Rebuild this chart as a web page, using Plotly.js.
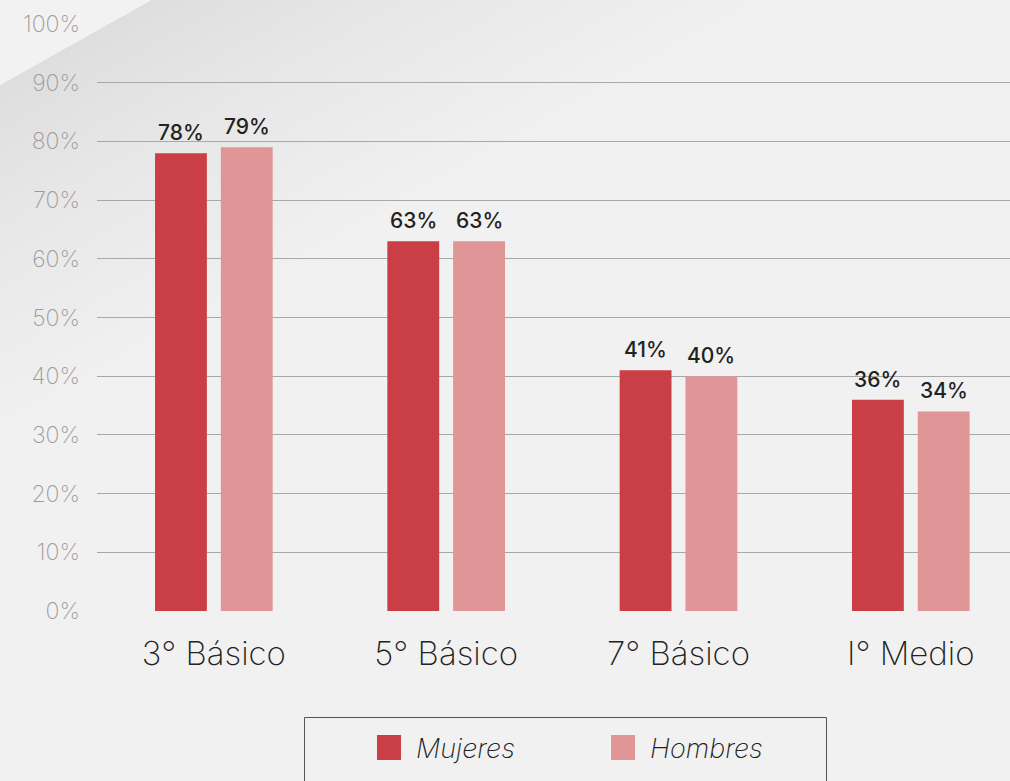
<!DOCTYPE html>
<html>
<head>
<meta charset="utf-8">
<script src="https://cdn.plot.ly/plotly-3.0.1.min.js"></script>
<style>
  html, body { margin:0; padding:0; }
  body {
    width:1010px; height:781px; overflow:hidden;
    background:
      linear-gradient(150.7deg, #f2f2f2 0px, #f2f2f2 74px, rgba(0,0,0,0) 74.5px),
      linear-gradient(150.7deg, #dedede 74px, #e7e7e7 200px, #f1f1f1 390px, #f1f1f1 100%);
  }
  #chart { width:1010px; height:781px; }
</style>
</head>
<body>
<div id="chart"></div>
<script>
const categories = ['3° Básico', '5° Básico', '7° Básico', 'I° Medio'];
const seriesNames = ['Mujeres', 'Hombres'];
const mujeres = [78, 63, 41, 36];
const hombres = [79, 63, 40, 34];
const seriesColors = ['#c93f45', '#e09597'];
const yTickVals = [0, 10, 20, 30, 40, 50, 60, 70, 80, 90, 100];
const yTickText = yTickVals.map(v => v + '%');

const W = 1010, H = 781;
const M = {l: 97, r: 0, t: 24, b: 170};
const pw = W - M.l - M.r, ph = H - M.t - M.b;
const fx = px => (px - M.l) / pw;
const fy = py => (H - M.b - py) / ph;

const FONT = 'Inter, "Helvetica Neue", Arial, sans-serif';
const BARGAP = 0.4335, BARGROUPGAP = 0.212;

const seriesValues = [mujeres, hombres];
const traces = seriesNames.map((name, i) => ({
  type: 'bar',
  name: name,
  x: categories,
  y: seriesValues[i],
  marker: {color: seriesColors[i]},
  showlegend: false,
  hoverinfo: 'none'
}));

const annotations = [];
// value labels above each bar
const slot = (1 - BARGAP) / seriesNames.length;
seriesValues.forEach((vals, i) => {
  const off = (i - (seriesNames.length - 1) / 2) * slot;
  vals.forEach((v, j) => {
    annotations.push({
      xref: 'x', yref: 'y', x: j + off, y: v,
      xanchor: 'center', yanchor: 'bottom', yshift: 6,
      showarrow: false, text: v + '%',
      font: {family: FONT, size: 21, color: '#222222', weight: 500}
    });
  });
});

// custom legend (box, swatches, labels)
const shapes = [{
  type: 'rect', xref: 'paper', yref: 'paper',
  x0: fx(304.5), x1: fx(826.5), y0: fy(800), y1: fy(717.5),
  line: {color: '#555555', width: 1}, fillcolor: 'rgba(0,0,0,0)', layer: 'above'
}];
const legendX = [377, 611];
seriesNames.forEach((name, i) => {
  shapes.push({
    type: 'rect', xref: 'paper', yref: 'paper',
    x0: fx(legendX[i]), x1: fx(legendX[i] + 24), y0: fy(760), y1: fy(735),
    line: {width: 0}, fillcolor: seriesColors[i]
  });
  annotations.push({
    xref: 'paper', yref: 'paper', x: fx(legendX[i] + 37), y: fy(748),
    xanchor: 'left', yanchor: 'middle', showarrow: false,
    text: name,
    font: {family: FONT, size: 27, color: '#222222', style: 'italic', weight: 200}
  });
});

const layout = {
  width: W, height: H,
  margin: M,
  paper_bgcolor: 'rgba(0,0,0,0)',
  plot_bgcolor: 'rgba(0,0,0,0)',
  barmode: 'group',
  bargap: BARGAP,
  bargroupgap: BARGROUPGAP,
  showlegend: false,
  xaxis: {
    type: 'category',
    range: [-0.503, 3.427],
    showgrid: false, zeroline: false, showline: false,
    ticks: '', ticklabelstandoff: 20,
    tickfont: {family: FONT, size: 33, color: '#222222', weight: 200},
    fixedrange: true
  },
  yaxis: {
    range: [0, 100],
    tickmode: 'array',
    tickvals: yTickVals,
    ticktext: yTickText,
    showgrid: true, gridcolor: '#a8a8a8', gridwidth: 1,
    zeroline: false, showline: false,
    ticks: '', ticklabelstandoff: 16,
    tickfont: {family: FONT, size: 23, color: '#9b9b9b', weight: 200},
    fixedrange: true
  },
  shapes: shapes,
  annotations: annotations,
  font: {family: FONT}
};

Plotly.newPlot('chart', traces, layout, {displayModeBar: false, staticPlot: true});
</script>
</body>
</html>
